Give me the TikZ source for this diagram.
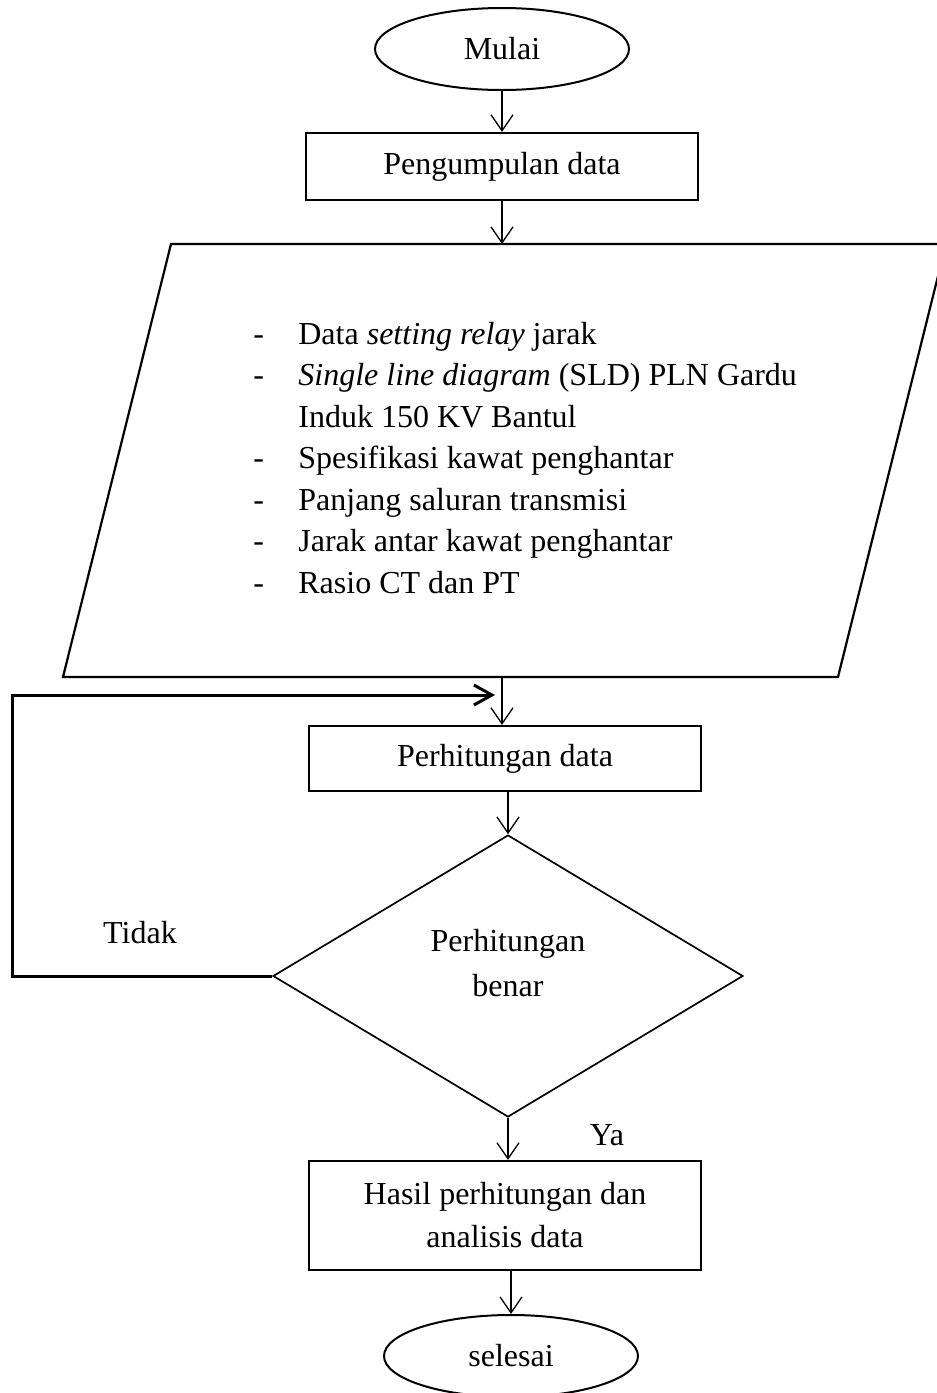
\documentclass[tikz,border=0pt]{standalone}
\usepackage{fontspec}
\setmainfont{Liberation Serif}
\usetikzlibrary{arrows.meta, shapes.geometric, positioning}

\begin{document}
\begin{tikzpicture}[x=0.5pt, y=-0.5pt, font=\fontsize{16}{21.5}\selectfont]
  % one unit = one pixel of the page, y running downwards
  \tikzset{
    terminal/.style={draw, ellipse, line width=1pt, inner sep=0pt,
      minimum width=127pt, minimum height=41pt},
    process/.style={draw, line width=1.1pt, inner sep=0pt, align=center,
      minimum width=196pt},
    decision/.style={draw, diamond, line width=0.85pt, inner sep=0pt,
      align=center, minimum width=235pt, minimum height=141pt},
    flow/.style={line width=0.65pt, -{Straight Barb[length=8pt, width=11pt]}},
    backflow/.style={line width=1.5pt, -{Straight Barb[length=9pt, width=10pt]}}
  }

  \useasboundingbox (0,0) rectangle (937,1393);
  \clip (0,0) rectangle (937,1393);

  \node[terminal] (mulai) at (502,49) {Mulai};
  \node[process, minimum height=33.5pt] (kumpul) at (502,166.5) {Pengumpulan data};

  % input data (parallelogram, cut by the right page edge)
  \draw[line width=1.1pt] (171,244) -- (946,244) -- (838,677) -- (63,677) -- cycle;
  \coordinate (datatop) at (502,244);
  \coordinate (databot) at (502,677);
  \node[anchor=west, inner sep=0pt] (daftar) at (253,460.5) {%
    \fontsize{16}{20.75}\selectfont
    \begin{tabular}{@{}p{22.5pt}@{}l@{}}
      - & Data \textit{setting relay} jarak\\
      - & \textit{Single line diagram} (SLD) PLN Gardu\\
        & Induk 150 KV Bantul\\
      - & Spesifikasi kawat penghantar\\
      - & Panjang saluran transmisi\\
      - & Jarak antar kawat penghantar\\
      - & Rasio CT dan PT
    \end{tabular}};

  \node[process, minimum height=32.5pt] (hitung) at (505,758.5) {Perhitungan data};
  \node[decision] (cek) at (508,976) {};
  \node[align=center] (cektext) at (508,963) {Perhitungan\\[0.6pt]benar};
  \node[process, minimum height=54.5pt] (hasil) at (505,1215.5)
    {Hasil perhitungan dan\\analisis data};
  \node[terminal] (selesai) at (511,1356) {selesai};

  \node (tidak) at (140,933) {Tidak};
  \node (ya) at (607,1135) {Ya};

  \draw[flow] (mulai) -- (kumpul);
  \draw[flow] (kumpul) -- (datatop);
  \draw[flow] (databot) -- (databot |- hitung.north);
  \draw[flow] (hitung.south -| cek.north) -- (cek.north);
  \draw[flow] (cek.south) -- (cek.south |- hasil.north);
  \draw[flow] (hasil.south -| selesai.north) -- (selesai.north);

  % loop back when the result is wrong
  \coordinate (sudut) at (12,695);
  \coordinate (balik) at (495,695);
  \draw[backflow] (cek.west) -| (sudut) -- (balik);
\end{tikzpicture}
\end{document}
